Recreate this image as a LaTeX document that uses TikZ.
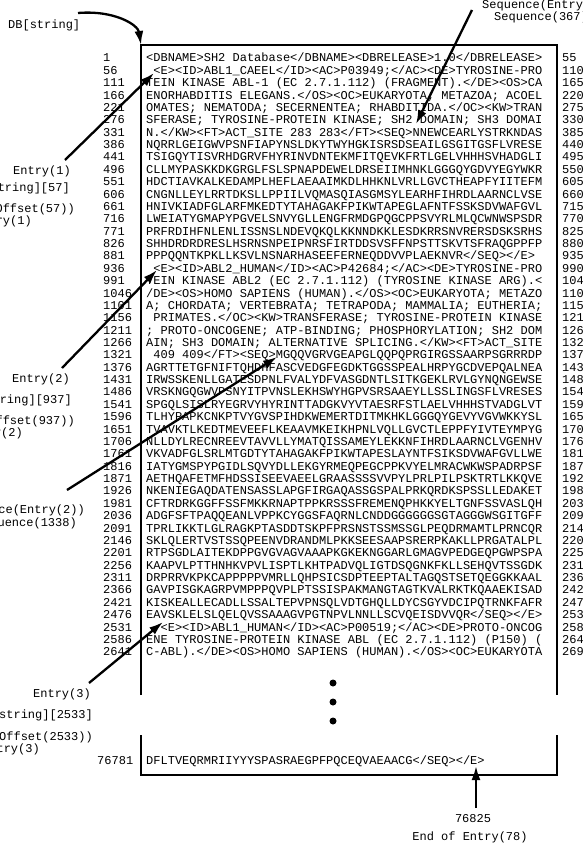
\documentclass[tikz,border=0pt]{standalone}
\usepackage{fontspec}
\setmonofont{Liberation Mono}
\usetikzlibrary{arrows.meta}
\tikzset{ptr/.style = {-{Latex[length = 14pt, width = 9pt]}, line width = 2.3pt}}
\tikzset{lbl/.style = {font = \ttfamily\fontsize{12}{12}\selectfont, inner sep = 0}}
\tikzset{dot/.style = {fill, circle, inner sep = 0, minimum size = 7}}
\begin{document}
\begin{tikzpicture}[x = 1pt, y = -1pt]
  \clip (0, 0) rectangle (582, 843);
  \draw [line width = 2pt] (141, 695) -- (141, 45) -- (557, 45) -- (557, 695);
  \draw [line width = 2pt] (141, 735) -- (141, 775) -- (557, 775) -- (557, 735);

  \foreach \t [count = \k from 0] in {
    {<DBNAME>SH2 Database</DBNAME><DBRELEASE>1.0</DBRELEASE>},
    {~<E><ID>ABL1\_CAEEL</ID><AC>P03949;</AC><DE>TYROSINE-PRO},
    {TEIN KINASE ABL-1 (EC 2.7.1.112) (FRAGMENT).</DE><OS>CA},
    {ENORHABDITIS ELEGANS.</OS><OC>EUKARYOTA; METAZOA; ACOEL},
    {OMATES; NEMATODA; SECERNENTEA; RHABDITIDA.</OC><KW>TRAN},
    {SFERASE; TYROSINE-PROTEIN KINASE; SH2 DOMAIN; SH3 DOMAI},
    {N.</KW><FT>ACT\_SITE 283 283</FT><SEQ>NNEWCEARLYSTRKNDAS},
    {NQRRLGEIGWVPSNFIAPYNSLDKYTWYHGKISRSDSEAILGSGITGSFLVRESE},
    {TSIGQYTISVRHDGRVFHYRINVDNTEKMFITQEVKFRTLGELVHHHSVHADGLI},
    {CLLMYPASKKDKGRGLFSLSPNAPDEWELDRSEIIMHNKLGGGQYGDVYEGYWKR},
    {HDCTIAVKALKEDAMPLHEFLAEAAIMKDLHHKNLVRLLGVCTHEAPFYIITEFM},
    {CNGNLLEYLRRTDKSLLPPIILVQMASQIASGMSYLEARHFIHRDLAARNCLVSE},
    {HNIVKIADFGLARFMKEDTYTAHAGAKFPIKWTAPEGLAFNTFSSKSDVWAFGVL},
    {LWEIATYGMAPYPGVELSNVYGLLENGFRMDGPQGCPPSVYRLMLQCWNWSPSDR},
    {PRFRDIHFNLENLISSNSLNDEVQKQLKKNNDKKLESDKRRSNVRERSDSKSRHS},
    {SHHDRDRDRESLHSRNSNPEIPNRSFIRTDDSVSFFNPSTTSKVTSFRAQGPPFP},
    {PPPQQNTKPKLLKSVLNSNARHASEEFERNEQDDVVPLAEKNVR</SEQ></E>},
    {~<E><ID>ABL2\_HUMAN</ID><AC>P42684;</AC><DE>TYROSINE-PRO},
    {TEIN KINASE ABL2 (EC 2.7.1.112) (TYROSINE KINASE ARG).<},
    {/DE><OS>HOMO SAPIENS (HUMAN).</OS><OC>EUKARYOTA; METAZO},
    {A; CHORDATA; VERTEBRATA; TETRAPODA; MAMMALIA; EUTHERIA;},
    {~PRIMATES.</OC><KW>TRANSFERASE; TYROSINE-PROTEIN KINASE},
    {; PROTO-ONCOGENE; ATP-BINDING; PHOSPHORYLATION; SH2 DOM},
    {AIN; SH3 DOMAIN; ALTERNATIVE SPLICING.</KW><FT>ACT\_SITE},
    {~409 409</FT><SEQ>MGQQVGRVGEAPGLQQPQPRGIRGSSAARPSGRRRDP},
    {AGRTTETGFNIFTQHDHFASCVEDGFEGDKTGGSSPEALHRPYGCDVEPQALNEA},
    {IRWSSKENLLGATESDPNLFVALYDFVASGDNTLSITKGEKLRVLGYNQNGEWSE},
    {VRSKNGQGWVPSNYITPVNSLEKHSWYHGPVSRSAAEYLLSSLINGSFLVRESES},
    {SPGQLSISLRYEGRVYHYRINTTADGKVYVTAESRFSTLAELVHHHSTVADGLVT},
    {TLHYPAPKCNKPTVYGVSPIHDKWEMERTDITMKHKLGGGQYGEVYVGVWKKYSL},
    {TVAVKTLKEDTMEVEEFLKEAAVMKEIKHPNLVQLLGVCTLEPPFYIVTEYMPYG},
    {NLLDYLRECNREEVTAVVLLYMATQISSAMEYLEKKNFIHRDLAARNCLVGENHV},
    {VKVADFGLSRLMTGDTYTAHAGAKFPIKWTAPESLAYNTFSIKSDVWAFGVLLWE},
    {IATYGMSPYPGIDLSQVYDLLEKGYRMEQPEGCPPKVYELMRACWKWSPADRPSF},
    {AETHQAFETMFHDSSISEEVAEELGRAASSSSVVPYLPRLPILPSKTRTLKKQVE},
    {NKENIEGAQDATENSASSLAPGFIRGAQASSGSPALPRKQRDKSPSSLLEDAKET},
    {CFTRDRKGGFFSSFMKKRNAPTPPKRSSSFREMENQPHKKYELTGNFSSVASLQH},
    {ADGFSFTPAQQEANLVPPKCYGGSFAQRNLCNDDGGGGGGSGTAGGGWSGITGFF},
    {TPRLIKKTLGLRAGKPTASDDTSKPFPRSNSTSSMSSGLPEQDRMAMTLPRNCQR},
    {SKLQLERTVSTSSQPEENVDRANDMLPKKSEESAAPSRERPKAKLLPRGATALPL},
    {RTPSGDLAITEKDPPGVGVAGVAAAPKGKEKNGGARLGMAGVPEDGEQPGWPSPA},
    {KAAPVLPTTHNHKVPVLISPTLKHTPADVQLIGTDSQGNKFKLLSEHQVTSSGDK},
    {DRPRRVKPKCAPPPPPVMRLLQHPSICSDPTEEPTALTAGQSTSETQEGGKKAAL},
    {GAVPISGKAGRPVMPPPQVPLPTSSISPAKMANGTAGTKVALRKTKQAAEKISAD},
    {KISKEALLECADLLSSALTEPVPNSQLVDTGHQLLDYCSGYVDCIPQTRNKFAFR},
    {EAVSKLELSLQELQVSSAAAGVPGTNPVLNNLLSCVQEISDVVQR</SEQ></E>},
    {~~<E><ID>ABL1\_HUMAN</ID><AC>P00519;</AC><DE>PROTO-ONCOG},
    {ENE TYROSINE-PROTEIN KINASE ABL (EC 2.7.1.112) (P150) (},
    {C-ABL).</DE><OS>HOMO SAPIENS (HUMAN).</OS><OC>EUKARYOTA}} {
    \pgfmathtruncatemacro{\lo}{1 + 55*\k}
    \pgfmathtruncatemacro{\hi}{55 + 55*\k}
    \node [lbl, anchor = base west] (num\k) at (103, {62 + 12.37*\k}) {\lo};
    \node [lbl, anchor = base west] (row\k) at (146, {62 + 12.37*\k}) {\t};
    \node [lbl, anchor = base west] (end\k) at (562, {62 + 12.37*\k}) {\hi};
  }
  \node [lbl, anchor = base west] (numlast) at (97, 764) {76781};
  \node [lbl, anchor = base west] (rowlast) at (146, 764) {DFLTVEQRMRIIYYYSPASRAEGPFPQCEQVAEAACG</SEQ></E>};

  \node [dot] (dot1) at (333, 683) {};
  \node [dot] (dot2) at (333, 702) {};
  \node [dot] (dot3) at (333, 721) {};

  \node [lbl, anchor = base west] (db) at (8, 29) {DB[string]};
  \node [lbl, anchor = base west] (seq1) at (482, 9) {Sequence(Entry(1))};
  \node [lbl, anchor = base west] (seq1pos) at (494, 21) {Sequence(367)};

  \node [lbl, anchor = base east] (ent1) at (71, 174) {Entry(1)};
  \node [lbl, anchor = base east] (ent1db) at (70, 191) {DB[string][57]};
  \node [lbl, anchor = base east] (ent1off) at (75, 212) {Offset(57))};
  \node [lbl, anchor = base east] (ent1eq) at (32, 224) {ry(1)};

  \node [lbl, anchor = base east] (ent2) at (70, 382) {Entry(2)};
  \node [lbl, anchor = base east] (ent2db) at (72, 403) {DB[string][937]};
  \node [lbl, anchor = base east] (ent2off) at (75, 424) {Offset(937))};
  \node [lbl, anchor = base east] (ent2eq) at (23, 436) {y(2)};
  \node [lbl, anchor = base east] (seq2) at (85, 513) {Sequence(Entry(2))};
  \node [lbl, anchor = base east] (seq2pos) at (77, 526) {Sequence(1338)};

  \node [lbl, anchor = base east] (ent3) at (91, 697) {Entry(3)};
  \node [lbl, anchor = base east] (ent3db) at (93, 718) {DB[string][2533]};
  \node [lbl, anchor = base east] (ent3off) at (93, 740) {Offset(2533))};
  \node [lbl, anchor = base east] (ent3eq) at (40, 752) {try(3)};

  \node [lbl, anchor = base] (endpos) at (473, 822) {76825};
  \node [lbl, anchor = base] (endlbl) at (470, 840) {End of Entry(78)};

  \coordinate (dbfrom) at (78, 13);
  \coordinate (dbto) at (141, 45);
  \coordinate (e1from) at (65, 160);
  \coordinate (e1to) at (154, 73);
  \coordinate (s1from) at (472, 10);
  \coordinate (s1to) at (416, 124);
  \coordinate (e2from) at (62, 368);
  \coordinate (e2to) at (157, 270);
  \coordinate (s2from) at (67, 490);
  \coordinate (s2to) at (277, 357);
  \coordinate (e3from) at (89, 683);
  \coordinate (e3to) at (163, 622);
  \coordinate (endfrom) at (476, 808);
  \coordinate (endto) at (476, 766);

  \draw [ptr] (dbfrom) .. controls (115, 10) and (138, 25) .. (dbto);
  \draw [ptr] (e1from) -- (e1to);
  \draw [ptr] (s1from) -- (s1to);
  \draw [ptr] (e2from) -- (e2to);
  \draw [ptr] (s2from) -- (s2to);
  \draw [ptr] (e3from) -- (e3to);
  \draw [ptr] (endfrom) -- (endto);
\end{tikzpicture}
\end{document}
